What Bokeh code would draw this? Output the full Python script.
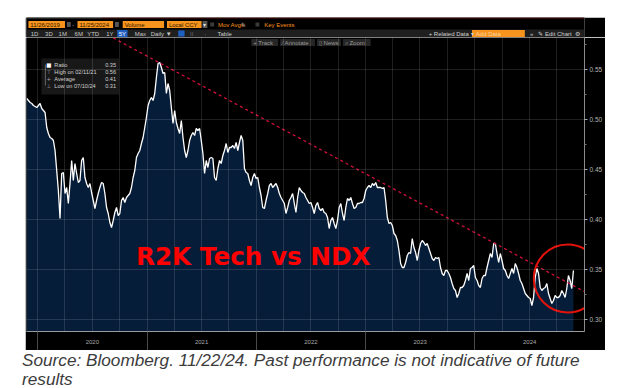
import pandas as pd
from bokeh.plotting import figure
from bokeh.layouts import column, row
from bokeh.models import (Range1d, FixedTicker, NumeralTickFormatter,
                          DatetimeTickFormatter, Label, Spacer, Div)
from bokeh.core.properties import value
from bokeh.embed import file_html
from bokeh.resources import INLINE

# ---------------- data ----------------
START_DATE = "2019-11-26"
END_DATE = "2024-11-25"
RATIO = [
    0.521, 0.519, 0.517, 0.516, 0.514, 0.513, 0.512, 0.514, 0.516, 0.511,
    0.509, 0.507, 0.492, 0.486, 0.482, 0.481, 0.479, 0.469, 0.449, 0.429,
    0.401, 0.446, 0.447, 0.426, 0.432, 0.416, 0.436, 0.459, 0.439, 0.456,
    0.446, 0.437, 0.439, 0.459, 0.462, 0.442, 0.436, 0.432, 0.436, 0.427,
    0.419, 0.411, 0.419, 0.426, 0.432, 0.437, 0.436, 0.426, 0.412, 0.406,
    0.397, 0.392, 0.399, 0.407, 0.412, 0.404, 0.406, 0.419, 0.422, 0.417,
    0.422, 0.424, 0.426, 0.432, 0.442, 0.449, 0.462, 0.466, 0.469, 0.476,
    0.482, 0.492, 0.502, 0.514, 0.519, 0.522, 0.519, 0.526, 0.542, 0.556,
    0.557, 0.552, 0.546, 0.547, 0.526, 0.536, 0.529, 0.512, 0.496, 0.509,
    0.497, 0.491, 0.486, 0.499, 0.482, 0.469, 0.462, 0.469, 0.479, 0.484,
    0.487, 0.484, 0.491, 0.489,
    0.491, 0.479, 0.466, 0.446, 0.459, 0.452, 0.461, 0.462, 0.461, 0.442,
    0.439, 0.451, 0.459, 0.456, 0.464, 0.469, 0.476, 0.467, 0.472, 0.472,
    0.474, 0.471, 0.477, 0.469, 0.477, 0.484, 0.479, 0.451, 0.447, 0.446,
    0.439, 0.434, 0.442, 0.446, 0.441, 0.442, 0.432, 0.424, 0.412, 0.411,
    0.419, 0.426, 0.434, 0.436, 0.432, 0.434, 0.436, 0.432, 0.426, 0.422,
    0.419, 0.416, 0.406, 0.412, 0.419, 0.422, 0.426, 0.416, 0.407, 0.422,
    0.432, 0.429, 0.427, 0.426, 0.422, 0.419, 0.416, 0.417, 0.412, 0.406,
    0.414, 0.417, 0.411, 0.409, 0.411, 0.407, 0.406, 0.402, 0.391, 0.399,
    0.402, 0.396, 0.391, 0.399, 0.412, 0.416, 0.406, 0.399, 0.412, 0.421,
    0.419, 0.422, 0.416, 0.411, 0.412, 0.416, 0.416, 0.417, 0.417, 0.421,
    0.429, 0.432, 0.434, 0.432, 0.436, 0.434, 0.437, 0.432,
    0.432, 0.432, 0.431, 0.432, 0.419, 0.402, 0.396, 0.397, 0.394, 0.386,
    0.384, 0.379, 0.369, 0.356, 0.352, 0.352, 0.357, 0.364, 0.367, 0.366,
    0.381, 0.372, 0.367, 0.359, 0.369, 0.376, 0.379, 0.377, 0.374, 0.376,
    0.371, 0.366, 0.361, 0.359, 0.362, 0.361, 0.362, 0.352, 0.346, 0.344,
    0.349, 0.349, 0.346, 0.342, 0.336, 0.331, 0.329, 0.322, 0.326, 0.332,
    0.332, 0.334, 0.339, 0.346, 0.339, 0.351, 0.352, 0.354, 0.342, 0.339,
    0.334, 0.332, 0.341, 0.344, 0.344, 0.352, 0.359, 0.366, 0.362, 0.376,
    0.376, 0.366, 0.357, 0.366, 0.359, 0.351, 0.349, 0.344, 0.341, 0.346,
    0.351, 0.346, 0.356, 0.352, 0.346, 0.339, 0.336, 0.331, 0.326, 0.324,
    0.322, 0.321, 0.314, 0.322, 0.342, 0.351, 0.346, 0.332, 0.329, 0.331,
    0.332, 0.336, 0.326, 0.321, 0.316, 0.319, 0.324, 0.322, 0.322, 0.324,
    0.329, 0.326, 0.322, 0.331, 0.344, 0.339, 0.331, 0.349,
]
YEARS = [2020, 2021, 2022, 2023, 2024]
Y_TICKS = [0.30, 0.35, 0.40, 0.45, 0.50, 0.55]
Y_MINOR = [0.325, 0.375, 0.425, 0.475, 0.525, 0.575]
X_START, X_END = "2019-11-25", "2025-01-01"
Y_MIN, Y_MAX = 0.288, 0.582
TITLE = "R2K Tech vs NDX"
LEGEND_LABELS = ["Ratio", "High on 02/11/21", "Average", "Low on 07/10/24"]
LEGEND_VALUES = ["0.35", "0.56", "0.41", "0.31"]
LEGEND_MARKS = ["\u25a0", "\u22a4", "+", "\u22a5"]
TREND_DATES = ["2020-07-01", "2024-12-31"]
TREND_VALUES = [0.593, 0.328]
CAPTION_LINES = ["Source: Bloomberg. 11/22/24. Past performance is not indicative of future",
                 "results"]

ORANGE = "#f7941d"
FONT = "Liberation Sans"


def ms(d):
    return pd.Timestamp(d).value / 1e6


dates = pd.date_range(START_DATE, END_DATE, periods=len(RATIO))
X0, X1 = ms(X_START), ms(X_END)

# page-pixel helpers for annotations inside the main chart frame
FL, FR, FT, FB = 26, 587, 37, 331


def dx(px):
    return X0 + (px - FL) / (FR - FL) * (X1 - X0)


def dy(py):
    return Y_MAX - (py - FT) / (FB - FT) * (Y_MAX - Y_MIN)


# ---------------- toolbar strip ----------------
tb = figure(width=580, height=20, x_range=Range1d(0, 580), y_range=Range1d(20, 0),
            toolbar_location=None, output_backend="svg", min_border=0,
            x_axis_location=None, y_axis_location=None,
            background_fill_color="black", border_fill_color="black",
            outline_line_color=None)
tb.grid.visible = False

boxes = [
    (0, 78, 0, 1, "#4a4a4a"), (78, 580, 0, 1, "#5c1212"),
    (0, 580, 12, 20, "#1f1f1f"),
    (2, 40, 3.5, 10.5, ORANGE), (42, 46, 4.5, 9.5, "#555555"),
    (53, 90, 3.5, 10.5, ORANGE), (92, 96, 4.5, 9.5, "#555555"),
    (100, 143, 3.5, 10.5, ORANGE), (146, 182, 3.5, 10.5, ORANGE),
    (183, 188, 3.5, 10.5, "#555555"), (191, 195, 5, 9, "#3a3a3a"),
    (238, 242, 5, 9, "#3a3a3a"),
    (94.3, 105, 12.5, 19.5, "#1f5fbf"), (157.7, 164.3, 13, 19, "#1f5fbf"),
    (463, 518, 12.5, 19.5, ORANGE),
]
tb.quad(left=[b[0] for b in boxes], right=[b[1] for b in boxes],
        top=[b[2] for b in boxes], bottom=[b[3] for b in boxes],
        fill_color=[b[4] for b in boxes], line_color=None)

left_texts = [
    (4, 7, "11/26/2019", "#2b1600"), (55, 7, "11/25/2024", "#2b1600"),
    (102, 7, "Volume", "#2b1600"), (148, 7, "Local CCY", "#2b1600"),
    (199, 7, "Mov Avgs", ORANGE), (247, 7, "Key Events", ORANGE),
    (418, 16, "+ Related Data \u25be", "#d0d0d0"), (467, 16, "Add Data", "#fcd3a0"),
    (532, 16, "\u270e Edit Chart", "#d0d0d0"),
]
tb.text(x=[t[0] for t in left_texts], y=[t[1] for t in left_texts],
        text=[t[2] for t in left_texts], text_color=[t[3] for t in left_texts],
        text_align="left", text_baseline="middle", text_font=value(FONT),
        text_font_size="6px")
center_texts = [
    (48.5, 7, "-", "#bbbbbb"), (185.5, 7, "\u25be", "#dddddd"), (226, 7, "\u270e", "#aaaaaa"),
    (8.3, 16, "1D", "#c8c8c8"), (23.3, 16, "3D", "#c8c8c8"), (37.7, 16, "1M", "#c8c8c8"),
    (54.3, 16, "6M", "#c8c8c8"), (69.3, 16, "YTD", "#c8c8c8"), (86.7, 16, "1Y", "#c8c8c8"),
    (99.7, 16, "5Y", "#ffffff"), (118.3, 16, "Max", "#c8c8c8"),
    (140, 16, "Daily \u25bc", "#c8c8c8"), (171.7, 16, "\u205e\u205e", "#aaaaaa"),
    (185.7, 16, "\u00b7", "#aaaaaa"), (206, 16, "Table", "#c8c8c8"),
    (525, 16, "\u00ab", "#c8c8c8"), (573, 16, "\u2699", "#c8c8c8"),
]
tb.text(x=[t[0] for t in center_texts], y=[t[1] for t in center_texts],
        text=[t[2] for t in center_texts], text_color=[t[3] for t in center_texts],
        text_align="center", text_baseline="middle", text_font=value(FONT),
        text_font_size="6px")

# ---------------- main chart ----------------
p = figure(width=580, height=313, x_axis_type="datetime", y_axis_location="right",
           x_range=Range1d(X0, X1), y_range=Range1d(Y_MIN, Y_MAX),
           toolbar_location=None, output_backend="svg",
           min_border_left=1, min_border_right=18, min_border_top=0, min_border_bottom=19,
           background_fill_color="black", border_fill_color="black",
           outline_line_color=None)

p.varea(x=dates, y1=Y_MIN, y2=RATIO, fill_color="#061d3a")
p.line(x=dates, y=RATIO, line_color="white", line_width=1.3)
p.line(x=pd.to_datetime(TREND_DATES), y=TREND_VALUES, line_color="#d0103a",
       line_width=1.3, line_dash="3 3")

# red circle annotation
p.ellipse(x=dx(570), y=dy(278), width=(X1 - X0) * 68 / (FR - FL),
          height=(Y_MAX - Y_MIN) * 68 / (FB - FT),
          fill_color=None, line_color="#e3120b", line_width=2)

# axes
year_mid = [ms(f"{y}-07-02") for y in YEARS]
year_start = [ms(f"{y}-01-01") for y in YEARS]
xa = p.xaxis[0]
xa.ticker = FixedTicker(ticks=year_mid, minor_ticks=year_start)
xa.formatter = DatetimeTickFormatter(years="%Y", months="%Y", days="%Y", hours="%Y")
xa.axis_line_color = "#9a9a9a"
xa.major_tick_line_color = None
xa.major_tick_out = 0
xa.minor_tick_line_color = "#4a4a4a"
xa.minor_tick_out = 19
xa.minor_tick_in = 0
xa.major_label_text_color = "#a8a8a8"
xa.major_label_text_font = FONT
xa.major_label_text_font_size = "6px"
xa.major_label_standoff = -11

ya = p.yaxis[0]
ya.ticker = FixedTicker(ticks=Y_TICKS, minor_ticks=Y_MINOR)
ya.formatter = NumeralTickFormatter(format="0.00")
ya.axis_line_color = "#8a8a8a"
ya.major_tick_line_color = "#aaaaaa"
ya.major_tick_out = 3
ya.major_tick_in = 0
ya.minor_tick_line_color = "#777777"
ya.minor_tick_out = 2
ya.minor_tick_in = 0
ya.major_label_text_color = "#b4b4b4"
ya.major_label_text_font = FONT
ya.major_label_text_font_size = "6.5px"
ya.major_label_standoff = 2

quarters = [ms(d) for d in pd.date_range("2020-01-01", "2024-10-01", freq="QS")]
p.xgrid[0].ticker = FixedTicker(ticks=quarters)
for g in (p.xgrid[0], p.ygrid[0]):
    g.grid_line_color = "white"
    g.grid_line_alpha = 0.12
    g.level = "annotation"

# inner tool row (Track / Annotate / News / Zoom)
tools = [("+ Track", 252, 279), ("\u2215 Annotate", 281, 316),
         ("\u25af News", 318, 342), ("\u2315 Zoom", 344, 372)]
p.quad(left=[dx(t[1]) for t in tools], right=[dx(t[2]) for t in tools],
       top=dy(38.5), bottom=dy(45.5), fill_color="#262626", line_color=None)
p.text(x=[dx(t[1] + 2) for t in tools], y=dy(42), text=[t[0] for t in tools],
       text_color="#9a9a9a", text_baseline="middle", text_font=value(FONT),
       text_font_size="6px")

# legend panel
p.quad(left=dx(41), right=dx(119), top=dy(58), bottom=dy(94),
       fill_color="#1a1a1a", fill_alpha=0.92, line_color=None)
rows_y = [64, 71, 78, 85]
p.line(x=[dx(45), dx(45)], y=[dy(64), dy(85)], line_color="#777777", line_width=0.8)
p.text(x=dx(48.5), y=[dy(v) for v in rows_y], text=LEGEND_MARKS,
       text_color=["white", "#aaaaaa", "#aaaaaa", "#aaaaaa"], text_align="center",
       text_baseline="middle", text_font=value("DejaVu Sans"), text_font_size="5.5px")
p.text(x=dx(54), y=[dy(v) for v in rows_y], text=LEGEND_LABELS,
       text_color="#d0d0d0", text_baseline="middle", text_font=value(FONT),
       text_font_size="5.6px")
p.text(x=dx(116), y=[dy(v) for v in rows_y], text=LEGEND_VALUES,
       text_color="#d0d0d0", text_align="right", text_baseline="middle",
       text_font=value(FONT), text_font_size="5.6px")

# title
p.add_layout(Label(x=dx(136), y=dy(256), text=TITLE, text_color="#ff0000",
                   text_font="DejaVu Sans", text_font_style="bold",
                   text_font_size="24.7px", text_baseline="middle"))

# last value box
p.add_layout(Label(x=dx(589), y=RATIO[-1], text=f"{RATIO[-1]:.2f}", text_color="black",
                   text_font=FONT, text_font_size="6.5px", text_baseline="middle",
                   background_fill_color="white", border_line_color="#999999",
                   padding=1))

# ---------------- caption ----------------
caption = Div(text="<br>".join(CAPTION_LINES), width=609, height=37, margin=(0, 0, 0, 0),
              styles={"font-family": "'Liberation Sans', Arial, sans-serif",
                      "font-style": "italic", "font-size": "17.2px",
                      "line-height": "18.5px", "color": "#3c3c3c",
                      "padding-left": "22px", "padding-top": "1px"})

layout = column(Spacer(width=10, height=17),
                row(Spacer(width=25, height=10), column(tb, p)),
                caption)

with open("out.html", "w") as f:
    f.write(file_html(layout, INLINE))
